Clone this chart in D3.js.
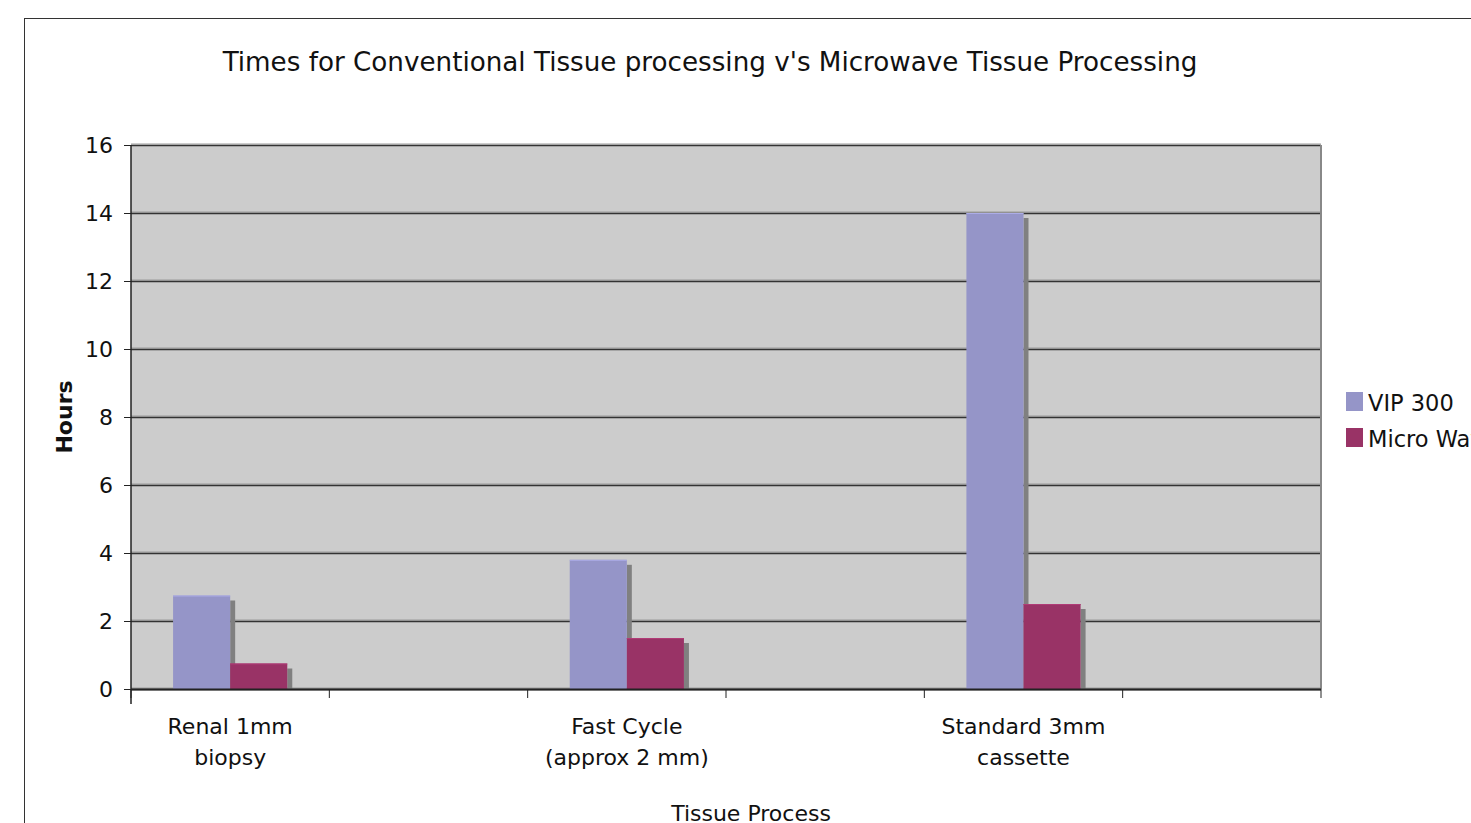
<!DOCTYPE html>
<html>
<head>
<meta charset="utf-8">
<script src="https://cdn.jsdelivr.net/npm/d3@7"></script>
<style>
html,body{margin:0;padding:0;background:#fff;overflow:hidden;}
svg{display:block;font-family:"DejaVu Sans",Verdana,sans-serif;}
</style>
</head>
<body>
<svg id="chart" width="1471" height="823"></svg>
<script>
// ---- data ----
const categories = ["Renal 1mm\nbiopsy", "", "Fast Cycle\n(approx 2 mm)", "", "Standard 3mm\ncassette", ""];
const seriesNames = ["VIP 300", "Micro Wave"];
const vip300 = [2.75, null, 3.8, null, 14, null];
const microWave = [0.75, null, 1.5, null, 2.5, null];
const yTicks = [0, 2, 4, 6, 8, 10, 12, 14, 16];
const seriesColors = ["#9595c8", "#993366"];
const title = "Times for Conventional Tissue processing v's Microwave Tissue Processing";
const yTitle = "Hours";
const xTitle = "Tissue Process";

const svg = d3.select("#chart");
const M = {left: 131, right: 1321, top: 145, bottom: 689};

// outer chart border
svg.append("rect").attr("x", 24.5).attr("y", 18.5).attr("width", 1500).attr("height", 900)
  .attr("fill", "#fff").attr("stroke", "#333").attr("stroke-width", 1);

const x = d3.scaleBand().domain(d3.range(categories.length)).range([M.left, M.right]).paddingInner(0).paddingOuter(0);
const xs = d3.scaleBand().domain(seriesNames).range([0, x.bandwidth()]).paddingInner(0).paddingOuter(0.7368);
const y = d3.scaleLinear().domain([0, 16]).range([M.bottom, M.top]);

// plot area
svg.append("rect").attr("x", M.left).attr("y", M.top).attr("width", M.right - M.left).attr("height", M.bottom - M.top)
  .attr("fill", "#cccccc");

// gridlines
const grid = svg.append("g");
yTicks.forEach(t => {
  grid.append("line").attr("x1", M.left).attr("x2", M.right).attr("y1", y(t) - 1).attr("y2", y(t) - 1)
    .attr("stroke", "#9a9a9a").attr("stroke-width", 1);
  grid.append("line").attr("x1", M.left).attr("x2", M.right).attr("y1", y(t) + 0.5).attr("y2", y(t) + 0.5)
    .attr("stroke", "#333").attr("stroke-width", 1.5);
});
// right edge
svg.append("line").attr("x1", M.right).attr("x2", M.right).attr("y1", M.top).attr("y2", M.bottom)
  .attr("stroke", "#888").attr("stroke-width", 2);

// bars
const data = [vip300, microWave];
const barsG = svg.append("g");
const sh = 5;
categories.forEach((c, i) => {
  seriesNames.forEach((s, k) => {
    const v = data[k][i];
    if (v == null) return;
    const bx = x(i) + xs(s), bw = xs.bandwidth();
    barsG.append("rect").attr("x", bx + bw).attr("y", y(v) + sh).attr("width", sh).attr("height", y(0) - y(v) - sh)
      .attr("fill", "#808080");
  });
});
categories.forEach((c, i) => {
  seriesNames.forEach((s, k) => {
    const v = data[k][i];
    if (v == null) return;
    const bx = x(i) + xs(s), bw = xs.bandwidth();
    barsG.append("rect").attr("x", bx).attr("y", y(v)).attr("width", bw).attr("height", y(0) - y(v))
      .attr("fill", seriesColors[k]);
    barsG.append("line").attr("x1", bx).attr("x2", bx + bw).attr("y1", y(v) + 0.5).attr("y2", y(v) + 0.5)
      .attr("stroke", d3.color(seriesColors[k]).brighter(0.4)).attr("stroke-width", 1);
  });
});

// y axis
const yAxis = svg.append("g").attr("transform", `translate(${M.left},0)`)
  .call(d3.axisLeft(y).tickValues(yTicks).tickSize(7).tickPadding(11).tickFormat(d3.format("d")));
yAxis.select(".domain").attr("stroke", "#222").attr("stroke-width", 1.5).attr("d", `M0,${M.top}V${M.bottom + 15}`);
yAxis.selectAll(".tick line").attr("stroke", "#222");
yAxis.selectAll(".tick text").attr("font-size", 22).attr("fill", "#111").attr("font-family", "DejaVu Sans").attr("dy", "0.34em");

// x axis
const xAxisG = svg.append("g").attr("transform", `translate(0,${M.bottom})`);
xAxisG.append("line").attr("x1", M.left).attr("x2", M.right).attr("y1", 0.5).attr("y2", 0.5).attr("stroke", "#222").attr("stroke-width", 2);
const edges = categories.map((c, i) => x(i)).concat([M.right]);
edges.forEach(e => {
  xAxisG.append("line").attr("x1", e).attr("x2", e).attr("y1", 0).attr("y2", 9).attr("stroke", "#222").attr("stroke-width", 1);
});
categories.forEach((c, i) => {
  if (!c) return;
  const t = xAxisG.append("text").attr("text-anchor", "middle").attr("font-size", 22).attr("fill", "#111");
  c.split("\n").forEach((line, j) => {
    t.append("tspan").attr("x", x(i) + x.bandwidth() / 2).attr("y", 45 + j * 31).text(line);
  });
});

// titles
svg.append("text").attr("x", 710).attr("y", 71).attr("text-anchor", "middle").attr("font-size", 26.2).attr("fill", "#111").text(title);
svg.append("text").attr("transform", "translate(72,417) rotate(-90)").attr("text-anchor", "middle")
  .attr("font-size", 22).attr("font-weight", "bold").attr("fill", "#111").text(yTitle);
svg.append("text").attr("x", 751).attr("y", 821).attr("text-anchor", "middle").attr("font-size", 22).attr("fill", "#111").text(xTitle);

// legend
const lg = svg.append("g").attr("transform", "translate(1346,392)");
seriesNames.forEach((s, k) => {
  lg.append("rect").attr("x", 0).attr("y", k * 36).attr("width", 17).attr("height", 19).attr("fill", seriesColors[k]);
  lg.append("text").attr("x", 22).attr("y", k * 36 + 18.5).attr("font-size", 22.5).attr("fill", "#111").text(s);
});
</script>
</body>
</html>
